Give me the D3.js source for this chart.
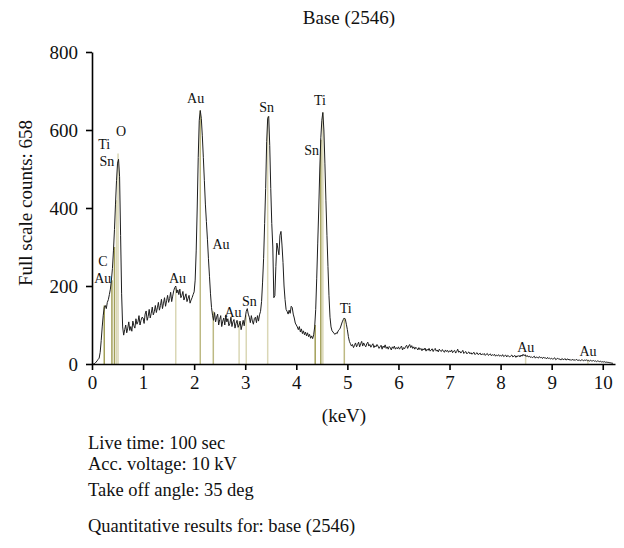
<!DOCTYPE html>
<html>
<head>
<meta charset="utf-8">
<script src="https://cdn.jsdelivr.net/npm/d3@7/dist/d3.min.js"></script>
<style>
  html, body { margin: 0; padding: 0; background: #ffffff; }
  svg { display: block; font-family: "Liberation Serif", "DejaVu Serif", serif; }
</style>
</head>
<body>
<svg id="chart" width="624" height="548"></svg>
<script>
// ---------------- data ----------------
const chartTitle = "Base (2546)";
const yAxisTitle = "Full scale counts: 658";
const xAxisTitle = "(keV)";
const infoLines = ["Live time: 100 sec", "Acc. voltage: 10 kV", "Take off angle: 35 deg", "Quantitative results for: base (2546)"];

const xTickValues = [0, 1, 2, 3, 4, 5, 6, 7, 8, 9, 10];
const yTickValues = [0, 200, 400, 600, 800];

// spectrum sampled every 0.02 keV starting at 0 keV
const energyStart = 0;
const energyStep = 0.02;
const spectrumCounts = [
  // 0.00 - 0.98
  0,0,0,2,5,8,12,15,30,60,
  95,125,145,150,142,158,165,178,192,215,
  245,290,345,410,470,515,525,480,330,180,
  95,74,88,100,80,92,108,86,96,84,
  110,98,92,116,102,108,124,100,112,120,
  // 1.00 - 1.98
  118,104,128,136,112,122,140,118,130,146,
  126,134,150,132,144,158,138,150,166,142,
  156,170,148,162,176,158,168,184,160,174,
  188,196,200,182,190,178,192,170,176,186,
  164,172,180,160,168,176,156,164,170,178,
  // 2.00 - 2.98
  185,215,290,400,530,625,650,630,585,530,
  470,410,365,320,270,225,180,145,125,112,
  132,108,120,128,100,114,124,96,110,118,
  100,126,108,116,98,104,120,96,108,114,
  92,104,112,94,100,110,88,100,112,98,
  // 3.00 - 3.98
  118,135,142,128,120,106,124,110,102,117,
  120,106,124,110,126,135,160,210,270,360,
  450,570,630,635,560,450,360,300,170,175,
  250,310,295,280,330,340,305,260,200,165,
  140,135,128,138,130,148,145,128,118,105,
  // 4.00 - 4.98
  100,95,88,96,82,90,78,85,75,82,
  72,80,70,76,66,72,65,75,95,140,
  220,310,400,500,580,625,645,600,515,420,
  330,250,175,120,95,85,82,78,76,80,
  78,85,88,92,100,108,114,118,115,102,
  // 5.00 - 5.98
  88,70,58,52,46,50,42,48,54,44,
  50,56,44,52,58,46,54,48,44,52,
  56,46,50,43,48,52,42,47,44,50,
  46,40,44,48,38,46,42,49,40,44,
  38,45,42,36,44,40,46,38,42,39,
  // 6.00 - 6.98
  44,38,42,46,36,42,39,45,48,40,
  46,50,42,47,40,44,38,43,40,36,
  42,37,40,34,39,36,41,33,38,35,
  40,33,36,39,32,37,40,33,36,31,
  38,34,32,37,33,30,36,32,35,30,
  // 7.00 - 7.98
  34,31,36,29,33,35,28,32,38,30,
  33,28,31,35,27,30,32,26,29,31,
  26,29,25,28,30,24,27,29,24,26,
  28,23,26,24,27,22,25,27,22,24,
  26,21,24,22,25,20,23,21,24,20,
  // 8.00 - 8.98
  22,20,24,19,21,23,18,22,20,18,
  21,23,18,20,22,17,21,19,22,18,
  23,20,25,21,24,19,22,18,20,17,
  19,16,18,20,15,18,17,15,19,16,
  17,14,18,15,16,13,17,14,15,13,
  // 9.00 - 9.98
  15,12,14,16,11,13,15,12,13,10,
  14,12,11,14,10,12,13,10,12,9,
  12,10,11,9,12,10,9,11,8,10,
  11,8,10,9,11,8,9,7,10,8,
  8,9,7,8,6,8,7,6,7,5,
  // 10.00 - 10.20
  6,5,6,4,5,4,4,3,3,2,2
];

// element marker lines
const markerKeV    = [0.24, 0.39, 0.44, 0.48, 0.51, 1.64, 2.12, 2.375, 2.88, 3.02, 3.44, 4.37, 4.48, 4.52, 4.94, 8.49, 9.71];
const markerCounts = [150, 215, 300, 420, 540, 195, 650, 135, 110, 125, 635, 100, 575, 645, 118, 20, 12];
const markerTone   = ["dark","dark","dark","light","light","light","mid","mid","light","light","light","dark","dark","light","mid","light","light"];

// element labels
const labelText   = ["Au", "C", "Ti", "Sn", "O", "Au", "Au", "Au", "Au", "Sn", "Sn", "Ti", "Sn", "Ti", "Au", "Au"];
const labelKeV    = [0.21, 0.215, 0.24, 0.29, 0.57, 1.674, 2.03, 2.526, 2.76, 3.08, 3.42, 4.465, 4.30, 4.968, 8.494, 9.712];
const labelCounts = [221, 264, 563, 520, 596, 220, 681, 308, 134, 161, 660, 677, 549, 143, 43, 34];

// ---------------- drawing ----------------
const svg = d3.select("#chart");
const x = d3.scaleLinear().domain([0, 10.24]).range([92, 615]);
const y = d3.scaleLinear().domain([0, 800]).range([364, 52]);

const toneColor = { dark: "#a29f58", mid: "#bdb983", light: "#dad7b6" };

// marker lines (behind the spectrum)
svg.append("g").selectAll("line")
  .data(markerKeV.map((k, i) => ({ k, c: markerCounts[i], t: markerTone[i] })))
  .join("line")
  .attr("x1", d => x(d.k)).attr("x2", d => x(d.k))
  .attr("y1", y(0)).attr("y2", d => y(d.c))
  .attr("stroke", d => toneColor[d.t])
  .attr("stroke-width", 1.5);

// spectrum
const spectrum = spectrumCounts.map((c, i) => [energyStart + i * energyStep, c]);
svg.append("path")
  .datum(spectrum)
  .attr("fill", "none")
  .attr("stroke", "#1e1e1e")
  .attr("stroke-width", 1)
  .attr("stroke-linejoin", "round")
  .attr("d", d3.line().x(d => x(d[0])).y(d => y(d[1])));

// axes
const xAxis = svg.append("g")
  .attr("transform", `translate(0,${y(0)})`)
  .call(d3.axisBottom(x).tickValues(xTickValues).tickFormat(d3.format("d")).tickSize(6).tickSizeOuter(0).tickPadding(6));
const yAxis = svg.append("g")
  .attr("transform", `translate(${x(0)},0)`)
  .call(d3.axisLeft(y).tickValues(yTickValues).tickFormat(d3.format("d")).tickSize(6).tickSizeOuter(0).tickPadding(8));

[xAxis, yAxis].forEach(g => {
  g.select(".domain").attr("stroke", "#000").attr("stroke-width", 1.6);
  g.selectAll(".tick line").attr("stroke", "#000").attr("stroke-width", 1.6);
  g.selectAll(".tick text")
    .attr("fill", "#111")
    .style("font-family", '"Liberation Serif", serif')
    .style("font-size", "19px");
});

// element labels
svg.append("g").selectAll("text")
  .data(labelText.map((t, i) => ({ t, k: labelKeV[i], c: labelCounts[i] })))
  .join("text")
  .attr("x", d => x(d.k))
  .attr("y", d => y(d.c))
  .attr("dy", "0.35em")
  .attr("text-anchor", "middle")
  .attr("fill", "#111")
  .style("font-size", "14px")
  .text(d => d.t);

// title
svg.append("text")
  .attr("x", 349).attr("y", 24)
  .attr("text-anchor", "middle")
  .attr("fill", "#111")
  .style("font-size", "19px")
  .text(chartTitle);

// y axis title
svg.append("text")
  .attr("transform", "translate(32,203) rotate(-90)")
  .attr("text-anchor", "middle")
  .attr("fill", "#111")
  .style("font-size", "19px")
  .text(yAxisTitle);

// x axis title
svg.append("text")
  .attr("x", 344).attr("y", 422)
  .attr("text-anchor", "middle")
  .attr("fill", "#111")
  .style("font-size", "19px")
  .text(xAxisTitle);

// info lines
const infoBaselines = [449, 470, 496, 532];
svg.append("g").selectAll("text")
  .data(infoLines)
  .join("text")
  .attr("x", 88)
  .attr("y", (d, i) => infoBaselines[i])
  .attr("fill", "#111")
  .style("font-size", "18.5px")
  .text(d => d);
</script>
</body>
</html>
